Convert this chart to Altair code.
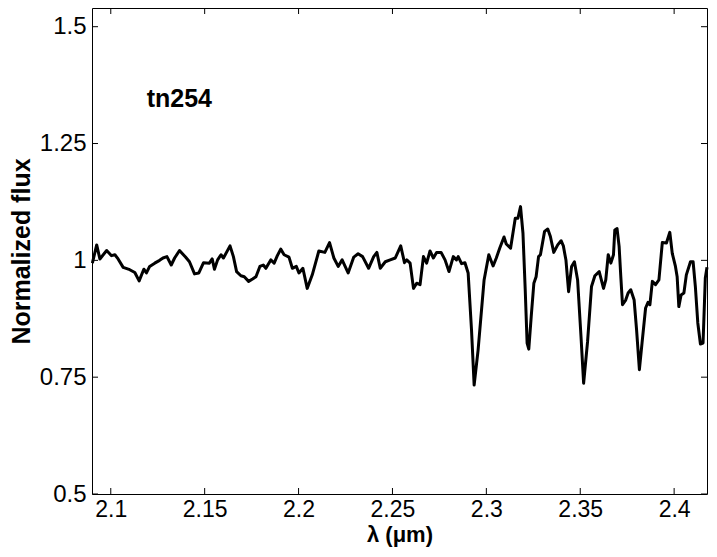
import altair as alt
import pandas as pd

lam = [2.0902, 2.0925, 2.0942, 2.0978, 2.1004, 2.1022, 2.1039, 2.1066, 2.1101, 2.1128,
       2.1151, 2.1176, 2.1190, 2.1207, 2.1234, 2.1260, 2.1278, 2.1299, 2.1322, 2.1340,
       2.1366, 2.1398, 2.1419, 2.1446, 2.1469, 2.1494, 2.1525, 2.1540, 2.1552, 2.1569,
       2.1587, 2.1600, 2.1635, 2.1653, 2.1670, 2.1693, 2.1711, 2.1734, 2.1755, 2.1773,
       2.1794, 2.1812, 2.1826, 2.1852, 2.1870, 2.1887, 2.1905, 2.1923, 2.1949, 2.1967,
       2.1988, 2.2002, 2.2023, 2.2046, 2.2073, 2.2108, 2.2140, 2.2165, 2.2188, 2.2211,
       2.2232, 2.2264, 2.2294, 2.2317, 2.2341, 2.2373, 2.2400, 2.2417, 2.2435, 2.2462,
       2.2488, 2.2515, 2.2544, 2.2564, 2.2576, 2.2594, 2.2612, 2.2629, 2.2647, 2.2665,
       2.2682, 2.2700, 2.2718, 2.2735, 2.2759, 2.2780, 2.2801, 2.2824, 2.2841, 2.2850,
       2.2868, 2.2886, 2.2903, 2.2921, 2.2935, 2.2956, 2.2988, 2.3013, 2.3036, 2.3053,
       2.3071, 2.3094, 2.3106, 2.3129, 2.3154, 2.3168, 2.3182, 2.3195, 2.3207, 2.3217,
       2.3226, 2.3239, 2.3253, 2.3265, 2.3278, 2.3288, 2.3310, 2.3327, 2.3341, 2.3359,
       2.3380, 2.3398, 2.3410, 2.3424, 2.3438, 2.3454, 2.3469, 2.3486, 2.3504, 2.3518,
       2.3539, 2.3560, 2.3578, 2.3601, 2.3624, 2.3636, 2.3649, 2.3663, 2.3677, 2.3684,
       2.3696, 2.3707, 2.3716, 2.3725, 2.3742, 2.3755, 2.3769, 2.3787, 2.3800, 2.3815,
       2.3829, 2.3848, 2.3861, 2.3871, 2.3884, 2.3901, 2.3919, 2.3937, 2.3959, 2.3977,
       2.3990, 2.4007, 2.4016, 2.4025, 2.4037, 2.4052, 2.4065, 2.4087, 2.4101, 2.4113,
       2.4126, 2.4140, 2.4154, 2.4166, 2.4175]

flux = [0.994, 1.033, 1.003, 1.021, 1.010, 1.012, 1.003, 0.985, 0.980, 0.974,
        0.956, 0.981, 0.973, 0.987, 0.994, 1.000, 1.005, 1.008, 0.990, 1.005,
        1.021, 1.007, 0.997, 0.971, 0.973, 0.995, 0.994, 1.003, 0.981, 1.001,
        1.012, 1.005, 1.031, 1.008, 0.976, 0.967, 0.965, 0.955, 0.960, 0.965,
        0.987, 0.990, 0.983, 1.001, 0.994, 1.010, 1.024, 1.012, 1.007, 0.983,
        0.987, 0.973, 0.983, 0.940, 0.969, 1.020, 1.017, 1.038, 1.005, 0.987,
        1.001, 0.973, 1.007, 1.014, 1.008, 0.983, 1.008, 1.017, 0.983, 0.997,
        1.001, 1.005, 1.031, 0.995, 1.001, 0.994, 0.940, 0.951, 0.948, 1.008,
        0.994, 1.020, 1.005, 1.017, 1.017, 1.001, 0.976, 1.008, 1.001, 1.008,
        0.993, 0.995, 0.973, 0.851, 0.733, 0.808, 0.958, 1.012, 0.988, 1.005,
        1.026, 1.050, 1.035, 1.026, 1.090, 1.090, 1.115, 1.058, 0.937, 0.823,
        0.810, 0.880, 0.951, 0.965, 1.008, 1.012, 1.062, 1.067, 1.051, 1.017,
        1.033, 1.042, 1.031, 1.000, 0.933, 0.987, 0.997, 0.958, 0.837, 0.737,
        0.826, 0.944, 0.967, 0.976, 0.940, 0.958, 1.012, 0.994, 1.012, 1.065,
        1.068, 1.030, 0.965, 0.905, 0.915, 0.930, 0.937, 0.915, 0.851, 0.766,
        0.823, 0.898, 0.910, 0.905, 0.955, 0.948, 0.958, 1.038, 1.037, 1.060,
        1.015, 0.987, 0.965, 0.901, 0.926, 0.930, 0.969, 0.997, 0.997, 0.944,
        0.866, 0.821, 0.823, 0.962, 0.985]

x_ticks = [2.1, 2.15, 2.2, 2.25, 2.3, 2.35, 2.4]
y_ticks = [0.5, 0.75, 1.0, 1.25, 1.5]
label_text = ["tn254"]
label_x = [2.1191]
label_y = [1.329]

W, H = 615, 486
FONT = "Liberation Sans"

df = pd.DataFrame({"lam": lam, "flux": flux})
xt = pd.DataFrame({"v": x_ticks})
yt = pd.DataFrame({"v": y_ticks})
lab = pd.DataFrame({"t": label_text, "x": label_x, "y": label_y})

xs = alt.Scale(domain=[2.09, 2.4175], nice=False, zero=False)
ys = alt.Scale(domain=[0.5, 1.54], nice=False, zero=False)

line = alt.Chart(df).mark_line(color="black", strokeWidth=3, strokeJoin="round").encode(
    x=alt.X("lam:Q", scale=xs,
            axis=alt.Axis(values=x_ticks, format=".2~f", title="λ (μm)")),
    y=alt.Y("flux:Q", scale=ys,
            axis=alt.Axis(values=y_ticks, format=".2~f", title="Normalized flux")),
)

tick_bottom = alt.Chart(xt).mark_rule(color="black", strokeWidth=1).encode(
    x=alt.X("v:Q", scale=xs), y=alt.value(H), y2=alt.value(H - 6))
tick_top = alt.Chart(xt).mark_rule(color="black", strokeWidth=1).encode(
    x=alt.X("v:Q", scale=xs), y=alt.value(0), y2=alt.value(6))
tick_left = alt.Chart(yt).mark_rule(color="black", strokeWidth=1).encode(
    y=alt.Y("v:Q", scale=ys), x=alt.value(0), x2=alt.value(6))
tick_right = alt.Chart(yt).mark_rule(color="black", strokeWidth=1).encode(
    y=alt.Y("v:Q", scale=ys), x=alt.value(W), x2=alt.value(W - 6))

text = alt.Chart(lab).mark_text(
    font=FONT, fontSize=25, fontWeight="bold", align="left", baseline="alphabetic", color="black"
).encode(x=alt.X("x:Q", scale=xs), y=alt.Y("y:Q", scale=ys), text="t:N")

chart = alt.layer(line, tick_bottom, tick_top, tick_left, tick_right, text).properties(
    width=W, height=H,
    autosize=alt.AutoSizeParams(type="none"),
    padding={"left": 84, "top": 0, "right": 2, "bottom": 55},
).configure_view(stroke="black", strokeWidth=1).configure_axis(
    domain=False, ticks=False, grid=False,
    labelFont=FONT, labelFontSize=24, labelColor="black",
    titleFont=FONT, titleFontWeight="bold", titleColor="black",
).configure_axisX(labelPadding=4, labelFontSize=23, titlePadding=3, titleFontSize=22).configure_axisY(
    labelPadding=6, titlePadding=5, titleFontSize=25)

chart.save("out.html", embed_options={"renderer": "svg", "actions": False})
